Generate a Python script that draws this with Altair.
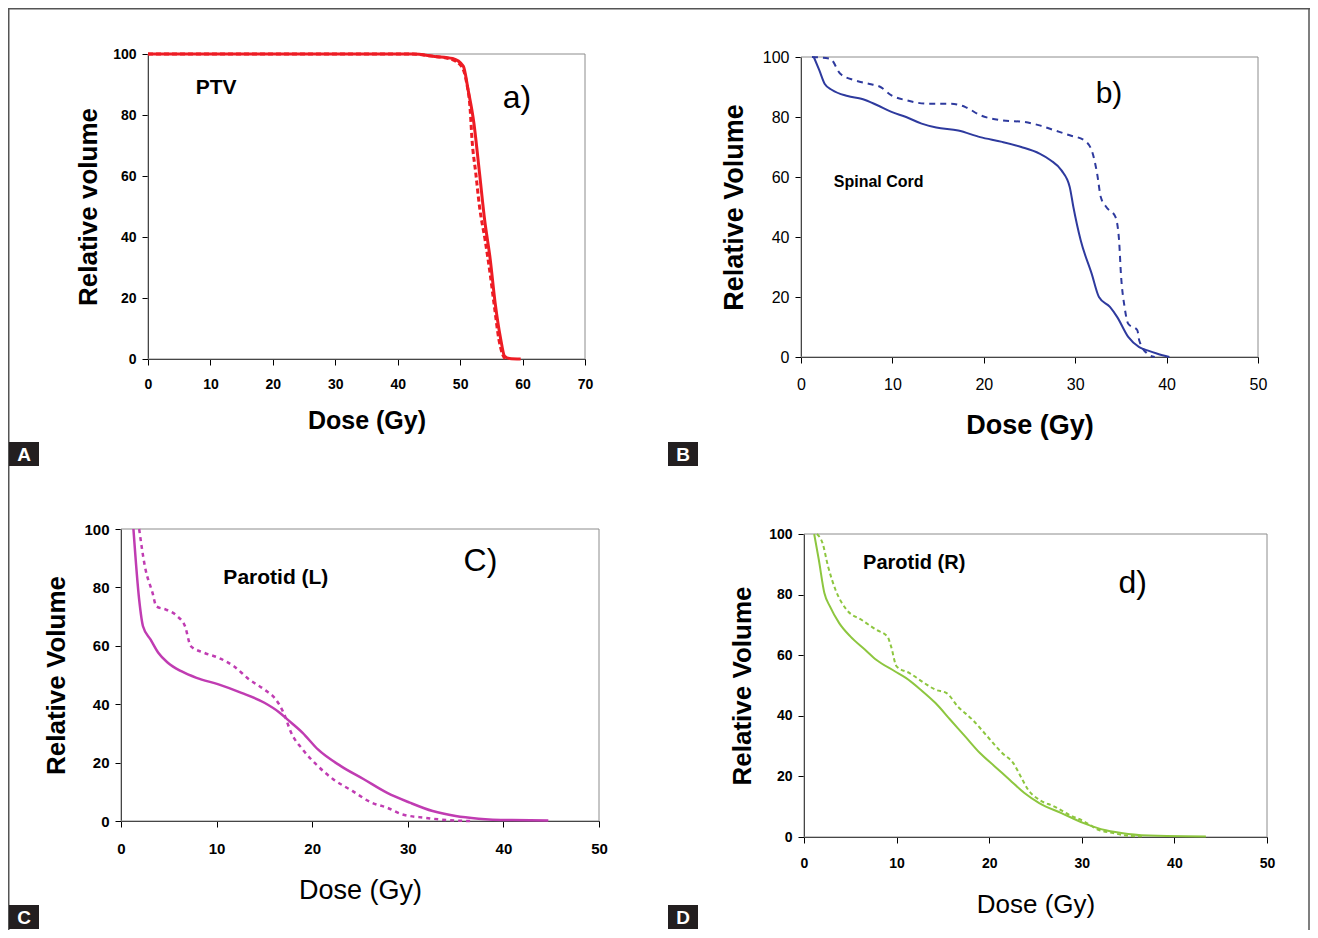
import altair as alt
import pandas as pd

FONT = "Liberation Sans"
W, H = 1302, 922

# ---------------- data ----------------
# A) PTV
a_solid_dose = [0, 42.5, 45.9, 48.8, 50.5, 51.3, 52.2, 53.1, 53.9, 54.8, 55.6, 56.5, 57.1, 57.9, 59.7]
a_solid_vol = [100, 100, 99.2, 98.5, 96, 88, 77.4, 61, 46, 33, 18.5, 6.5, 1, 0.2, 0]
a_dash_dose = [0, 42, 45.5, 48.5, 50.2, 51.0, 51.6, 51.9, 52.5, 53.1, 54.0, 54.8, 55.5, 56.2, 56.8, 57.2]
a_dash_vol = [100, 100, 99.3, 98.3, 96, 91, 82, 72, 61, 50, 39, 28, 17, 6.5, 1.5, 0]

# B) Spinal cord
b_solid_dose = [1.4, 2.0, 2.6, 3.4, 5.1, 6.7, 8.3, 9.9, 11.5, 13.2, 14.8, 17.2, 19.6, 22.0, 24.1,
                26.1, 27.3, 28.5, 29.4, 29.8, 30.6, 31.8, 32.6, 33.8, 34.6, 35.8, 37.0, 37.9, 39.0, 40.3]
b_solid_vol = [100, 95.6, 91, 89, 87, 86, 84, 81.7, 80, 77.8, 76.5, 75.5, 73.3, 71.7, 70,
               67.8, 65.6, 62.2, 56.7, 50, 38.9, 27.8, 20, 16.7, 13.3, 6.7, 3.3, 2.2, 1.1, 0]
b_dash_dose = [1.2, 3.2, 4.3, 5.9, 7.5, 8.7, 9.9, 11.5, 14.0, 16.4, 18.0, 19.6, 22.0, 24.5, 26.1,
               27.7, 29.4, 31.0, 31.8, 32.4, 32.8, 33.4, 34.4, 34.8, 35.0, 35.4, 35.8, 36.8, 37.0, 37.9, 38.7]
b_dash_vol = [100, 99.4, 94.4, 92.2, 91, 90, 87.2, 85.6, 84.4, 84.4, 83.3, 80.6, 78.9, 78.3, 77.2,
              75.6, 73.9, 72.2, 68.9, 61.1, 53.3, 50, 46.7, 38.9, 27.8, 16.7, 11.1, 8.9, 5.6, 1.1, 0]

# C) Parotid (L)
c_solid_dose = [1.3, 1.9, 2.3, 3.1, 3.9, 4.9, 6.3, 7.9, 10.2, 12.6, 15.0, 16.6, 17.4, 19.0, 20.6,
                23.0, 25.4, 27.8, 30.2, 32.6, 35.0, 37.4, 40.9, 44.7]
c_solid_vol = [100, 75.8, 66.7, 62.1, 57.6, 54.2, 51.3, 49, 46.8, 43.9, 40.5, 37.1, 34.8, 30.2, 24.5,
               18.8, 14.3, 9.7, 6.3, 3.4, 1.7, 0.8, 0.3, 0.2]
c_dash_dose = [1.9, 2.5, 3.3, 3.7, 4.7, 5.9, 6.7, 7.3, 8.7, 10.2, 11.8, 13.4, 15.0, 16.2, 17.0,
               17.8, 19.0, 20.6, 22.2, 24.2, 26.2, 27.8, 29.4, 31.8, 34.2, 36.6]
c_dash_vol = [100, 87.2, 78.1, 73.5, 72.4, 70.1, 66.7, 59.9, 57.6, 55.9, 53, 48.5, 45, 41.6, 37.1,
              30.2, 24.5, 18.8, 14.3, 10.3, 6.3, 4.6, 2.3, 1.1, 0.3, 0]

# D) Parotid (R)
d_solid_dose = [1.1, 1.6, 2.2, 2.8, 3.8, 5.0, 6.6, 7.8, 9.8, 11.0, 12.6, 14.2, 15.8, 17.4, 19.0,
                20.6, 22.2, 23.8, 25.4, 27.8, 30.2, 32.6, 35.0, 38.2, 43.4]
d_solid_vol = [100, 91.5, 80.5, 76.1, 70.6, 66.2, 61.8, 58.5, 54.7, 52.5, 48.6, 44.2, 38.7, 33.2, 27.7,
               23.3, 18.9, 14.5, 11.2, 7.9, 4.6, 2.2, 1, 0.4, 0.2]
d_dash_dose = [1.4, 2.0, 2.6, 3.4, 4.6, 6.2, 7.8, 9.0, 9.4, 10.0, 11.4, 13.0, 14.2, 15.4, 16.6,
               18.2, 19.8, 21.4, 22.6, 23.4, 24.2, 25.4, 27.0, 28.6, 30.2, 31.8, 33.4, 35.0, 36.6]
d_dash_vol = [100, 97, 89.3, 81.6, 75, 71.7, 68.4, 66.2, 62.9, 56.3, 54.1, 50.8, 48.6, 47.5, 43.1,
              38.7, 33.2, 27.7, 24.4, 20, 15.6, 12.3, 10.1, 7.4, 5.2, 2.4, 1.3, 0.4, 0.2]

y_ticks = [0, 20, 40, 60, 80, 100]
panel_letters = ["A", "B", "C", "D"]


def txt(label, x, y, size, weight, xs, ys):
    return alt.Chart(pd.DataFrame({"label": [label], "x": [x], "y": [y]})).mark_text(
        font=FONT, fontSize=size, fontWeight=weight, color="black",
        align="center", baseline="middle"
    ).encode(
        x=alt.X("x:Q", scale=xs, axis=None),
        y=alt.Y("y:Q", scale=ys, axis=None),
        text="label:N",
    )


def panel(sx, sy, dx, dy, c):
    xs = alt.Scale(domain=[0, c["xmax"]], range=c["xr"], nice=False, zero=False)
    ys = alt.Scale(domain=[0, 100], range=c["yr"], nice=False, zero=False)
    x0, x1 = c["xr"]
    yb, yt = c["yr"]
    xaxis = alt.Axis(
        orient="bottom", offset=yb - H, values=list(range(0, c["xmax"] + 1, 10)),
        title="Dose (Gy)", grid=False, domainColor="black", domainWidth=1,
        tickColor="black", tickSize=6, tickWidth=1,
        labelFont=FONT, labelFontSize=c["lab_size"], labelFontWeight=c["lab_weight"],
        labelColor="black", labelPadding=c["xlab_pad"], labelFlush=False, labelOverlap=False,
        titleFont=FONT, titleFontSize=c["xt_size"], titleFontWeight=c["xt_weight"],
        titleColor="black", titleX=(x0 + x1) / 2, titleY=c["xt_y"],
        titleBaseline="alphabetic", titleAlign="center",
    )
    yaxis = alt.Axis(
        orient="left", offset=-x0, values=y_ticks,
        title=c["ytitle"], grid=False, domainColor="black", domainWidth=1,
        tickColor="black", tickSize=6, tickWidth=1,
        labelFont=FONT, labelFontSize=c["lab_size"], labelFontWeight=c["lab_weight"],
        labelColor="black", labelPadding=6, labelFlush=False, labelOverlap=False,
        titleFont=FONT, titleFontSize=c["yt_size"], titleFontWeight="bold",
        titleColor="black", titleX=c["yt_x"], titleY=(yb + yt) / 2, titleAngle=270,
        titleBaseline="alphabetic", titleAlign="center",
    )
    frame = alt.Chart(pd.DataFrame({"p": [c["name"]]})).mark_rect(
        fillOpacity=0, stroke="#8c8c8c", strokeWidth=1
    ).encode(
        x=alt.XDatum(0, scale=xs, axis=None),
        x2=alt.X2Datum(c["xmax"]),
        y=alt.YDatum(0, scale=ys, axis=None),
        y2=alt.Y2Datum(100),
    )
    sdf = pd.DataFrame({"dose": sx, "vol": sy, "i": list(range(len(sx)))})
    ddf = pd.DataFrame({"dose": dx, "vol": dy, "i": list(range(len(dx)))})
    dashed = alt.Chart(ddf).mark_line(
        color=c["color"], strokeWidth=c["sw"], strokeDash=c["dash"], interpolate="monotone"
    ).encode(
        x=alt.X("dose:Q", scale=xs, axis=None),
        y=alt.Y("vol:Q", scale=ys, axis=None),
        order="i:Q",
    )
    solid = alt.Chart(sdf).mark_line(
        color=c["color"], strokeWidth=c["sw"], interpolate="monotone"
    ).encode(
        x=alt.X("dose:Q", scale=xs, axis=xaxis),
        y=alt.Y("vol:Q", scale=ys, axis=yaxis),
        order="i:Q",
    )
    t1 = txt(c["t1"][0], c["t1"][1], c["t1"][2], c["t1"][3], "bold", xs, ys)
    t2 = txt(c["t2"][0], c["t2"][1], c["t2"][2], c["t2"][3], "normal", xs, ys)
    return [frame, dashed, solid, t1, t2]


pA = panel(a_solid_dose, a_solid_vol, a_dash_dose, a_dash_vol, dict(
    name="A", xmax=70, xr=[140, 577], yr=[351, 46], color="#ed1c24", sw=3, dash=[5, 3],
    lab_size=14, lab_weight="bold", xlab_pad=12, xt_size=25, xt_weight="bold", xt_y=69,
    ytitle="Relative volume", yt_size=26, yt_x=-52,
    t1=("PTV", 10.9, 88.7, 21), t2=("a)", 59.1, 85.6, 32)))

pB = panel(b_solid_dose, b_solid_vol, b_dash_dose, b_dash_vol, dict(
    name="B", xmax=50, xr=[793, 1250], yr=[349, 49], color="#2e3a9e", sw=2, dash=[6, 5],
    lab_size=16, lab_weight="normal", xlab_pad=13, xt_size=27, xt_weight="bold", xt_y=76,
    ytitle="Relative Volume", yt_size=27, yt_x=-59,
    t1=("Spinal Cord", 8.5, 58.3, 16), t2=("b)", 33.7, 87.8, 30)))

pC = panel(c_solid_dose, c_solid_vol, c_dash_dose, c_dash_vol, dict(
    name="C", xmax=50, xr=[113, 591], yr=[813, 521], color="#c03cb2", sw=2.5, dash=[4, 4],
    lab_size=15, lab_weight="bold", xlab_pad=14, xt_size=27, xt_weight="normal", xt_y=77,
    ytitle="Relative Volume", yt_size=26, yt_x=-57,
    t1=("Parotid (L)", 16.2, 83.2, 21), t2=("C)", 37.6, 88.9, 32)))

pD = panel(d_solid_dose, d_solid_vol, d_dash_dose, d_dash_vol, dict(
    name="D", xmax=50, xr=[796, 1259], yr=[829, 526], color="#8dc63f", sw=2, dash=[4, 3],
    lab_size=14, lab_weight="bold", xlab_pad=13, xt_size=26, xt_weight="normal", xt_y=75,
    ytitle="Relative Volume", yt_size=26, yt_x=-54,
    t1=("Parotid (R)", 11.9, 90.4, 20), t2=("d)", 35.5, 83.8, 32)))


def letter_box(letter, left, top):
    d = pd.DataFrame({"letter": [letter]})
    box = alt.Chart(d).mark_rect(color="#231f20").encode(
        x=alt.value(left), x2=alt.value(left + 30),
        y=alt.value(top), y2=alt.value(top + 24),
    )
    lab = alt.Chart(d).mark_text(
        font=FONT, fontSize=19, fontWeight="bold", color="white",
        align="center", baseline="middle"
    ).encode(x=alt.value(left + 15), y=alt.value(top + 13), text="letter:N")
    return [box, lab]


decor = []
for letter, (lx, ly) in zip(panel_letters, [(1, 434), (660, 434), (1, 897), (660, 897)]):
    decor += letter_box(letter, lx, ly)

frame_df = pd.DataFrame({"f": [1]})
frame_left = alt.Chart(frame_df).mark_rule(color="#555555", strokeWidth=1.5).encode(
    x=alt.value(0.75), y=alt.value(0), y2=alt.value(H))
frame_top = alt.Chart(frame_df).mark_rule(color="#555555", strokeWidth=1.5).encode(
    x=alt.value(0), x2=alt.value(W), y=alt.value(0.75))
frame_right = alt.Chart(frame_df).mark_rule(color="#555555", strokeWidth=1.5).encode(
    x=alt.value(W - 1), y=alt.value(0), y2=alt.value(H))

layers = pA + pB + pC + pD + [frame_left, frame_top, frame_right] + decor

chart = alt.layer(*layers).resolve_scale(
    x="independent", y="independent"
).properties(
    width=W, height=H, padding=0, autosize=alt.AutoSizeParams(type="none"),
    background="white",
).configure_view(strokeWidth=0)

chart.save("out.html", embed_options={"renderer": "svg", "actions": False})
